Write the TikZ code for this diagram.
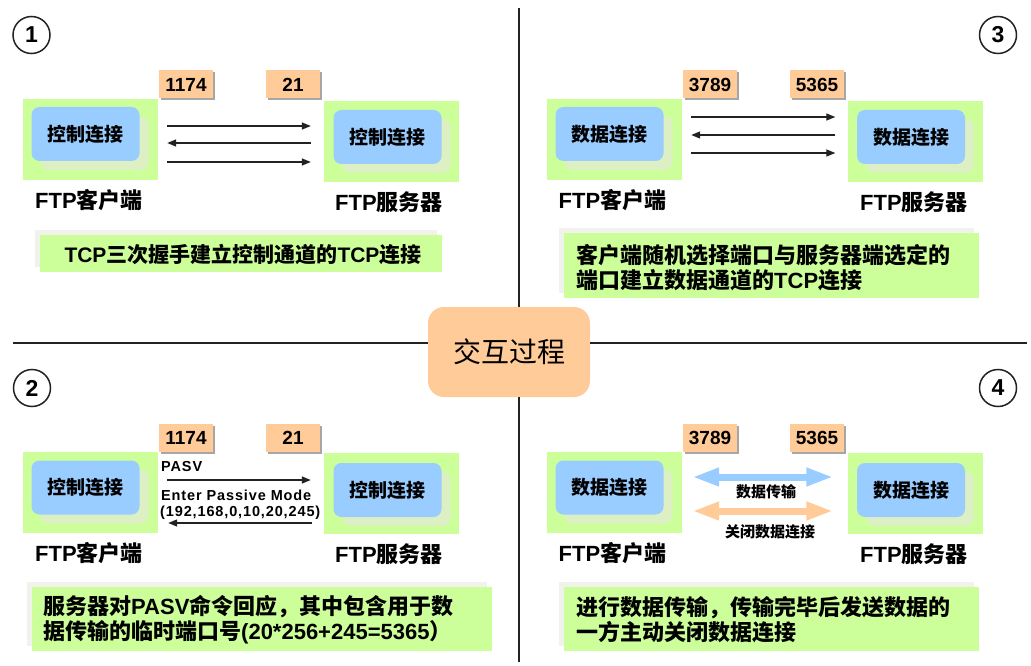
\documentclass[tikz,border=0pt]{standalone}
\usepackage{fontspec}
\setmainfont{Liberation Sans}
\newfontfamily\zhf{Noto Sans CJK SC}
\newcommand{\zh}[1]{{\zhf #1}}
\usetikzlibrary{arrows.meta,shadows}
\definecolor{gfill}{HTML}{CCFF99}
\definecolor{bfill}{HTML}{99CCFF}
\definecolor{ofill}{HTML}{FFCC99}
\definecolor{pshadow}{HTML}{DDF0C4}
\definecolor{cshadow}{HTML}{F2F2EC}
\definecolor{lineg}{HTML}{222222}
\definecolor{bluearr}{HTML}{99CCFF}
\definecolor{orarr}{HTML}{FFCC99}
\begin{document}
\begin{tikzpicture}[x=1pt,y=-1pt,
  gbox/.style={fill=gfill, minimum width=135pt, minimum height=81pt, inner sep=0pt},
  bbox/.style={fill=bfill, rounded corners=8pt, minimum width=108pt, minimum height=54pt, inner sep=0pt,
     font=\fontsize{19}{22}\selectfont\zhf\bfseries,
     general shadow={fill=pshadow, shadow xshift=9pt, shadow yshift=-9pt}},
  port/.style={fill=ofill, minimum width=54pt, minimum height=28pt, inner sep=0pt,
     font=\fontsize{19}{22}\selectfont\bfseries,
     general shadow={fill=black!35, shadow xshift=2pt, shadow yshift=-2pt}},
  num/.style={circle, draw=lineg, line width=1.5pt, minimum size=37pt, inner sep=0pt,
     font=\fontsize{23}{26}\selectfont\bfseries},
  lbl/.style={font=\fontsize{22}{26}\selectfont\bfseries, inner sep=0pt},
  capbox/.style={fill=gfill, inner sep=0pt,
     general shadow={fill=cshadow, shadow xshift=-5pt, shadow yshift=5pt}},
  captext/.style={font=\fontsize{22}{25}\selectfont\bfseries, inner sep=0pt, align=left},
  small/.style={font=\fontsize{14.5}{17}\selectfont\bfseries\addfontfeatures{LetterSpace=6}, inner sep=0pt},
  smallzh/.style={font=\fontsize{15}{17}\selectfont\zhf\bfseries, inner sep=0pt},
  arr/.style={draw=lineg, line width=1.3pt, -{Triangle[length=9pt,width=7pt]}},
  darr/.style={line width=7pt, {Triangle[length=27pt,width=17pt]}-{Triangle[length=27pt,width=17pt]}},
  divl/.style={draw=lineg, line width=1.5pt}
]
\useasboundingbox (0,0) rectangle (1031,666);
\fill[white] (0,0) rectangle (1031,666);

% dividers and centre
\node[fill=ofill, rounded corners=16pt, minimum width=162pt, minimum height=90pt, inner sep=0pt,
      font=\fontsize{28}{32}\selectfont\zhf] (ctr) at (509,352) {交互过程};
\coordinate (vt) at (519,8);
\coordinate (vb) at (519,662);
\coordinate (hl) at (13,343);
\coordinate (hr) at (1027,343);
\draw[divl] (vt) -- (vt |- ctr.north);
\draw[divl] (vb |- ctr.south) -- (vb);
\draw[divl] (hl) -- (hl -| ctr.west);
\draw[divl] (hr -| ctr.east) -- (hr);

% ---------- Quadrant 1 ----------
\node[num] (n1) at (31.5,35) {1};
\node[port] (p1a) at (186,84.5) {1174};
\node[port] (p1b) at (293,84.5) {21};
\node[gbox] (c1) at (90.5,139.5) {};
\node[bbox] (cb1) at (85.5,134) {控制连接};
\node[gbox] (s1) at (391.5,141.5) {};
\node[bbox] (sb1) at (387.5,137) {控制连接};
\draw[arr, shorten <=9pt, shorten >=13pt] (c1.east |- 0,126) -- (s1.west |- 0,126);
\draw[arr, shorten <=13pt, shorten >=9pt] (s1.west |- 0,143) -- (c1.east |- 0,143);
\draw[arr, shorten <=9pt, shorten >=13pt] (c1.east |- 0,162) -- (s1.west |- 0,162);
\node[lbl] (lc1) at (89,200) {FTP\zh{客户端}};
\node[lbl] (ls1) at (389,202) {FTP\zh{服务器}};
\node[capbox, minimum width=402pt, minimum height=37pt] (k1) at (241,253.5) {};
\node[captext, font=\fontsize{21}{25}\selectfont\bfseries] (t1) at (243,254) {TCP\zh{三次握手建立控制通道的}TCP\zh{连接}};

% ---------- Quadrant 2 ----------
\node[num] (n2) at (32,388) {2};
\node[port] (p2a) at (186,437.5) {1174};
\node[port] (p2b) at (293,437.5) {21};
\node[gbox] (c2) at (90.5,492) {};
\node[bbox] (cb2) at (85.5,487.5) {控制连接};
\node[gbox] (s2) at (391.5,493.5) {};
\node[bbox] (sb2) at (387.5,490) {控制连接};
\draw[arr, shorten <=9pt, shorten >=13pt] (c2.east |- 0,480) -- (s2.west |- 0,480);
\draw[arr, shorten <=12pt, shorten >=10pt] (s2.west |- 0,523) -- (c2.east |- 0,523);
\node[small, anchor=west] (m1) at (161,467) {PASV};
\node[small, anchor=west] (m2) at (161,495) {Enter Passive Mode};
\node[small, anchor=west] (m3) at (160,513) {(192,168,0,10,20,245)};
\node[lbl] (lc2) at (89,553) {FTP\zh{客户端}};
\node[lbl] (ls2) at (389,554) {FTP\zh{服务器}};
\node[capbox, minimum width=460pt, minimum height=64pt] (k2) at (262,619) {};
\node[captext, anchor=west] (t2) at (43,619.5) {\zh{服务器对}PASV\zh{命令回应，其中包含用于数}\\\zh{据传输的临时端口号}(20*256+245=5365\zh{）}};

% ---------- Quadrant 3 ----------
\node[num] (n3) at (998,35) {3};
\node[port] (p3a) at (710,84.5) {3789};
\node[port] (p3b) at (817,84.5) {5365};
\node[gbox] (c3) at (614.5,139.5) {};
\node[bbox] (cb3) at (609.5,134) {数据连接};
\node[gbox] (s3) at (915,141.5) {};
\node[bbox] (sb3) at (911,137) {数据连接};
\draw[arr, shorten <=9pt, shorten >=12pt] (c3.east |- 0,117) -- (s3.west |- 0,117);
\draw[arr, shorten <=12pt, shorten >=9pt] (s3.west |- 0,135) -- (c3.east |- 0,135);
\draw[arr, shorten <=9pt, shorten >=12pt] (c3.east |- 0,153) -- (s3.west |- 0,153);
\node[lbl] (lc3) at (612.5,200) {FTP\zh{客户端}};
\node[lbl] (ls3) at (914,202) {FTP\zh{服务器}};
\node[capbox, minimum width=415pt, minimum height=65pt] (k3) at (771.5,265.5) {};
\node[captext, anchor=west] (t3) at (576,267.5) {\zh{客户端随机选择端口与服务器端选定的}\\\zh{端口建立数据通道的}TCP\zh{连接}};

% ---------- Quadrant 4 ----------
\node[num] (n4) at (998,388) {4};
\node[port] (p4a) at (710,437.5) {3789};
\node[port] (p4b) at (817,437.5) {5365};
\node[gbox] (c4) at (614.5,492) {};
\node[bbox] (cb4) at (609.5,487.5) {数据连接};
\node[gbox] (s4) at (915,493.5) {};
\node[bbox] (sb4) at (911,490) {数据连接};
\draw[darr, bluearr, shorten <=10pt, shorten >=14pt] (c4.east |- 0,477) -- (s4.west |- 0,477);
\draw[darr, orarr, shorten <=10pt, shorten >=14pt] (c4.east |- 0,511) -- (s4.west |- 0,511);
\node[smallzh] (d1) at (766,492) {数据传输};
\node[smallzh] (d2) at (770,532) {关闭数据连接};
\node[lbl] (lc4) at (612.5,553) {FTP\zh{客户端}};
\node[lbl] (ls4) at (914,554) {FTP\zh{服务器}};
\node[capbox, minimum width=415pt, minimum height=64pt] (k4) at (771.5,619) {};
\node[captext, anchor=west] (t4) at (576,619.5) {\zh{进行数据传输，传输完毕后发送数据的}\\\zh{一方主动关闭数据连接}};
\end{tikzpicture}
\end{document}
